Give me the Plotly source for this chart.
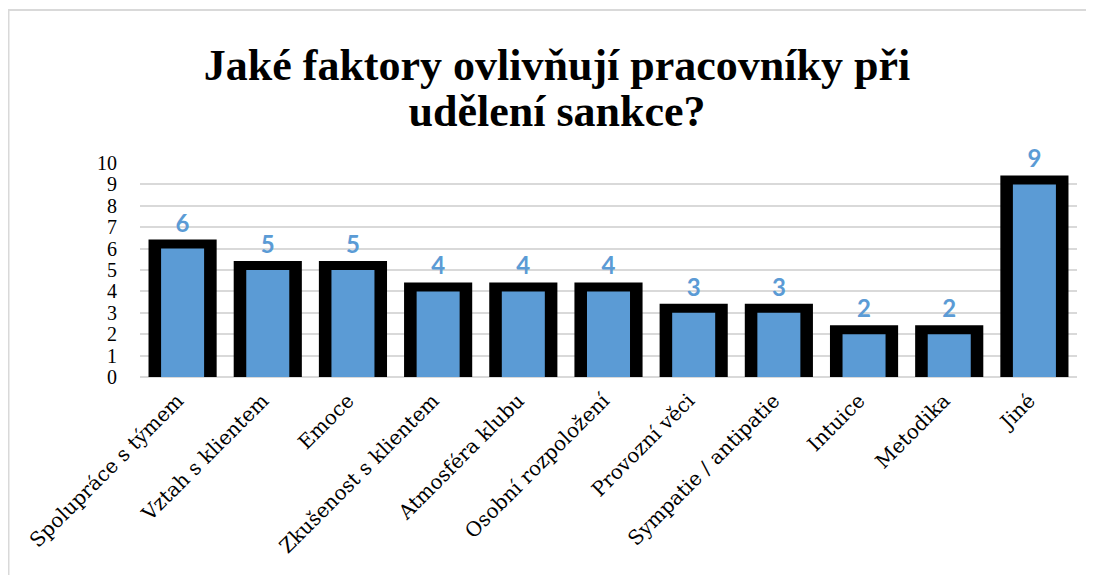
import plotly.graph_objects as go

categories = ["Spolupráce s týmem", "Vztah s klientem", "Emoce", "Zkušenost s klientem",
              "Atmosféra klubu", "Osobní rozpoložení", "Provozní věci", "Sympatie / antipatie",
              "Intuice", "Metodika", "Jiné"]
values = [6, 5, 5, 4, 4, 4, 3, 3, 2, 2, 9]
y_ticks = list(range(0, 11))

TITLE_LINES = ["Jaké faktory ovlivňují pracovníky při", "udělení sankce?"]
OUTLINE_EXTRA = 0.42  # thickness of black frame above bar, in value units

# page offset of the figure inside the html body
OFF = 8
W, H = 1094 - OFF, 575 - OFF
L, R, T, B = 140 - OFF, 1094 - 1077, 163 - OFF, 575 - 377
pw, ph = W - L - R, H - T - B


def px_x(px):
    return (px - OFF - L) / pw


def px_y(py):
    return (H - B - (py - OFF)) / ph


title_text = "<br>".join(f"<span style='font-size:44px'>{t}</span>" for t in TITLE_LINES)

fig = go.Figure()
# black frame (behind)
fig.add_trace(go.Bar(
    x=categories, y=[v + OUTLINE_EXTRA for v in values], width=0.8,
    marker=dict(color="black", line=dict(width=0)),
    text=[str(v) for v in values], textposition="outside",
    textfont=dict(family="Lato", size=24, color="#5B9BD5", weight="bold"),
    cliponaxis=False, hoverinfo="skip", showlegend=False,
))
# blue bar (front)
fig.add_trace(go.Bar(
    x=categories, y=values, width=0.505,
    marker=dict(color="#5B9BD5", line=dict(width=0)),
    showlegend=False,
))

fig.update_layout(
    width=W, height=H, barmode="overlay",
    margin=dict(l=L, r=R, t=T, b=B),
    paper_bgcolor="white", plot_bgcolor="white",
    title=dict(text=title_text, x=(557 - OFF) / W, xanchor="center", xref="container",
               y=1 - (80 - OFF) / H, yanchor="middle",
               font=dict(family="Liberation Serif", size=35, color="black", weight="bold")),
    xaxis=dict(tickangle=-45, tickfont=dict(family="DejaVu Serif", size=20, color="black"),
               showgrid=False, showline=False, ticks="", ticklabelstandoff=7, ticklabelshift=-5),
    yaxis=dict(range=[0, 10], tickvals=y_ticks,
               tickfont=dict(family="Liberation Serif", size=20, color="black"),
               showgrid=True, gridcolor="#D9D9D9", gridwidth=2,
               zeroline=True, zerolinecolor="#D9D9D9", zerolinewidth=2,
               showline=False, ticks="", ticklabelstandoff=22),
    shapes=[dict(type="rect", xref="paper", yref="paper",
                 x0=px_x(8.5), x1=px_x(1120), y0=px_y(620), y1=px_y(10),
                 line=dict(color="#D9D9D9", width=2), fillcolor="rgba(0,0,0,0)", layer="below")],
)

fig.write_html("out.html")
